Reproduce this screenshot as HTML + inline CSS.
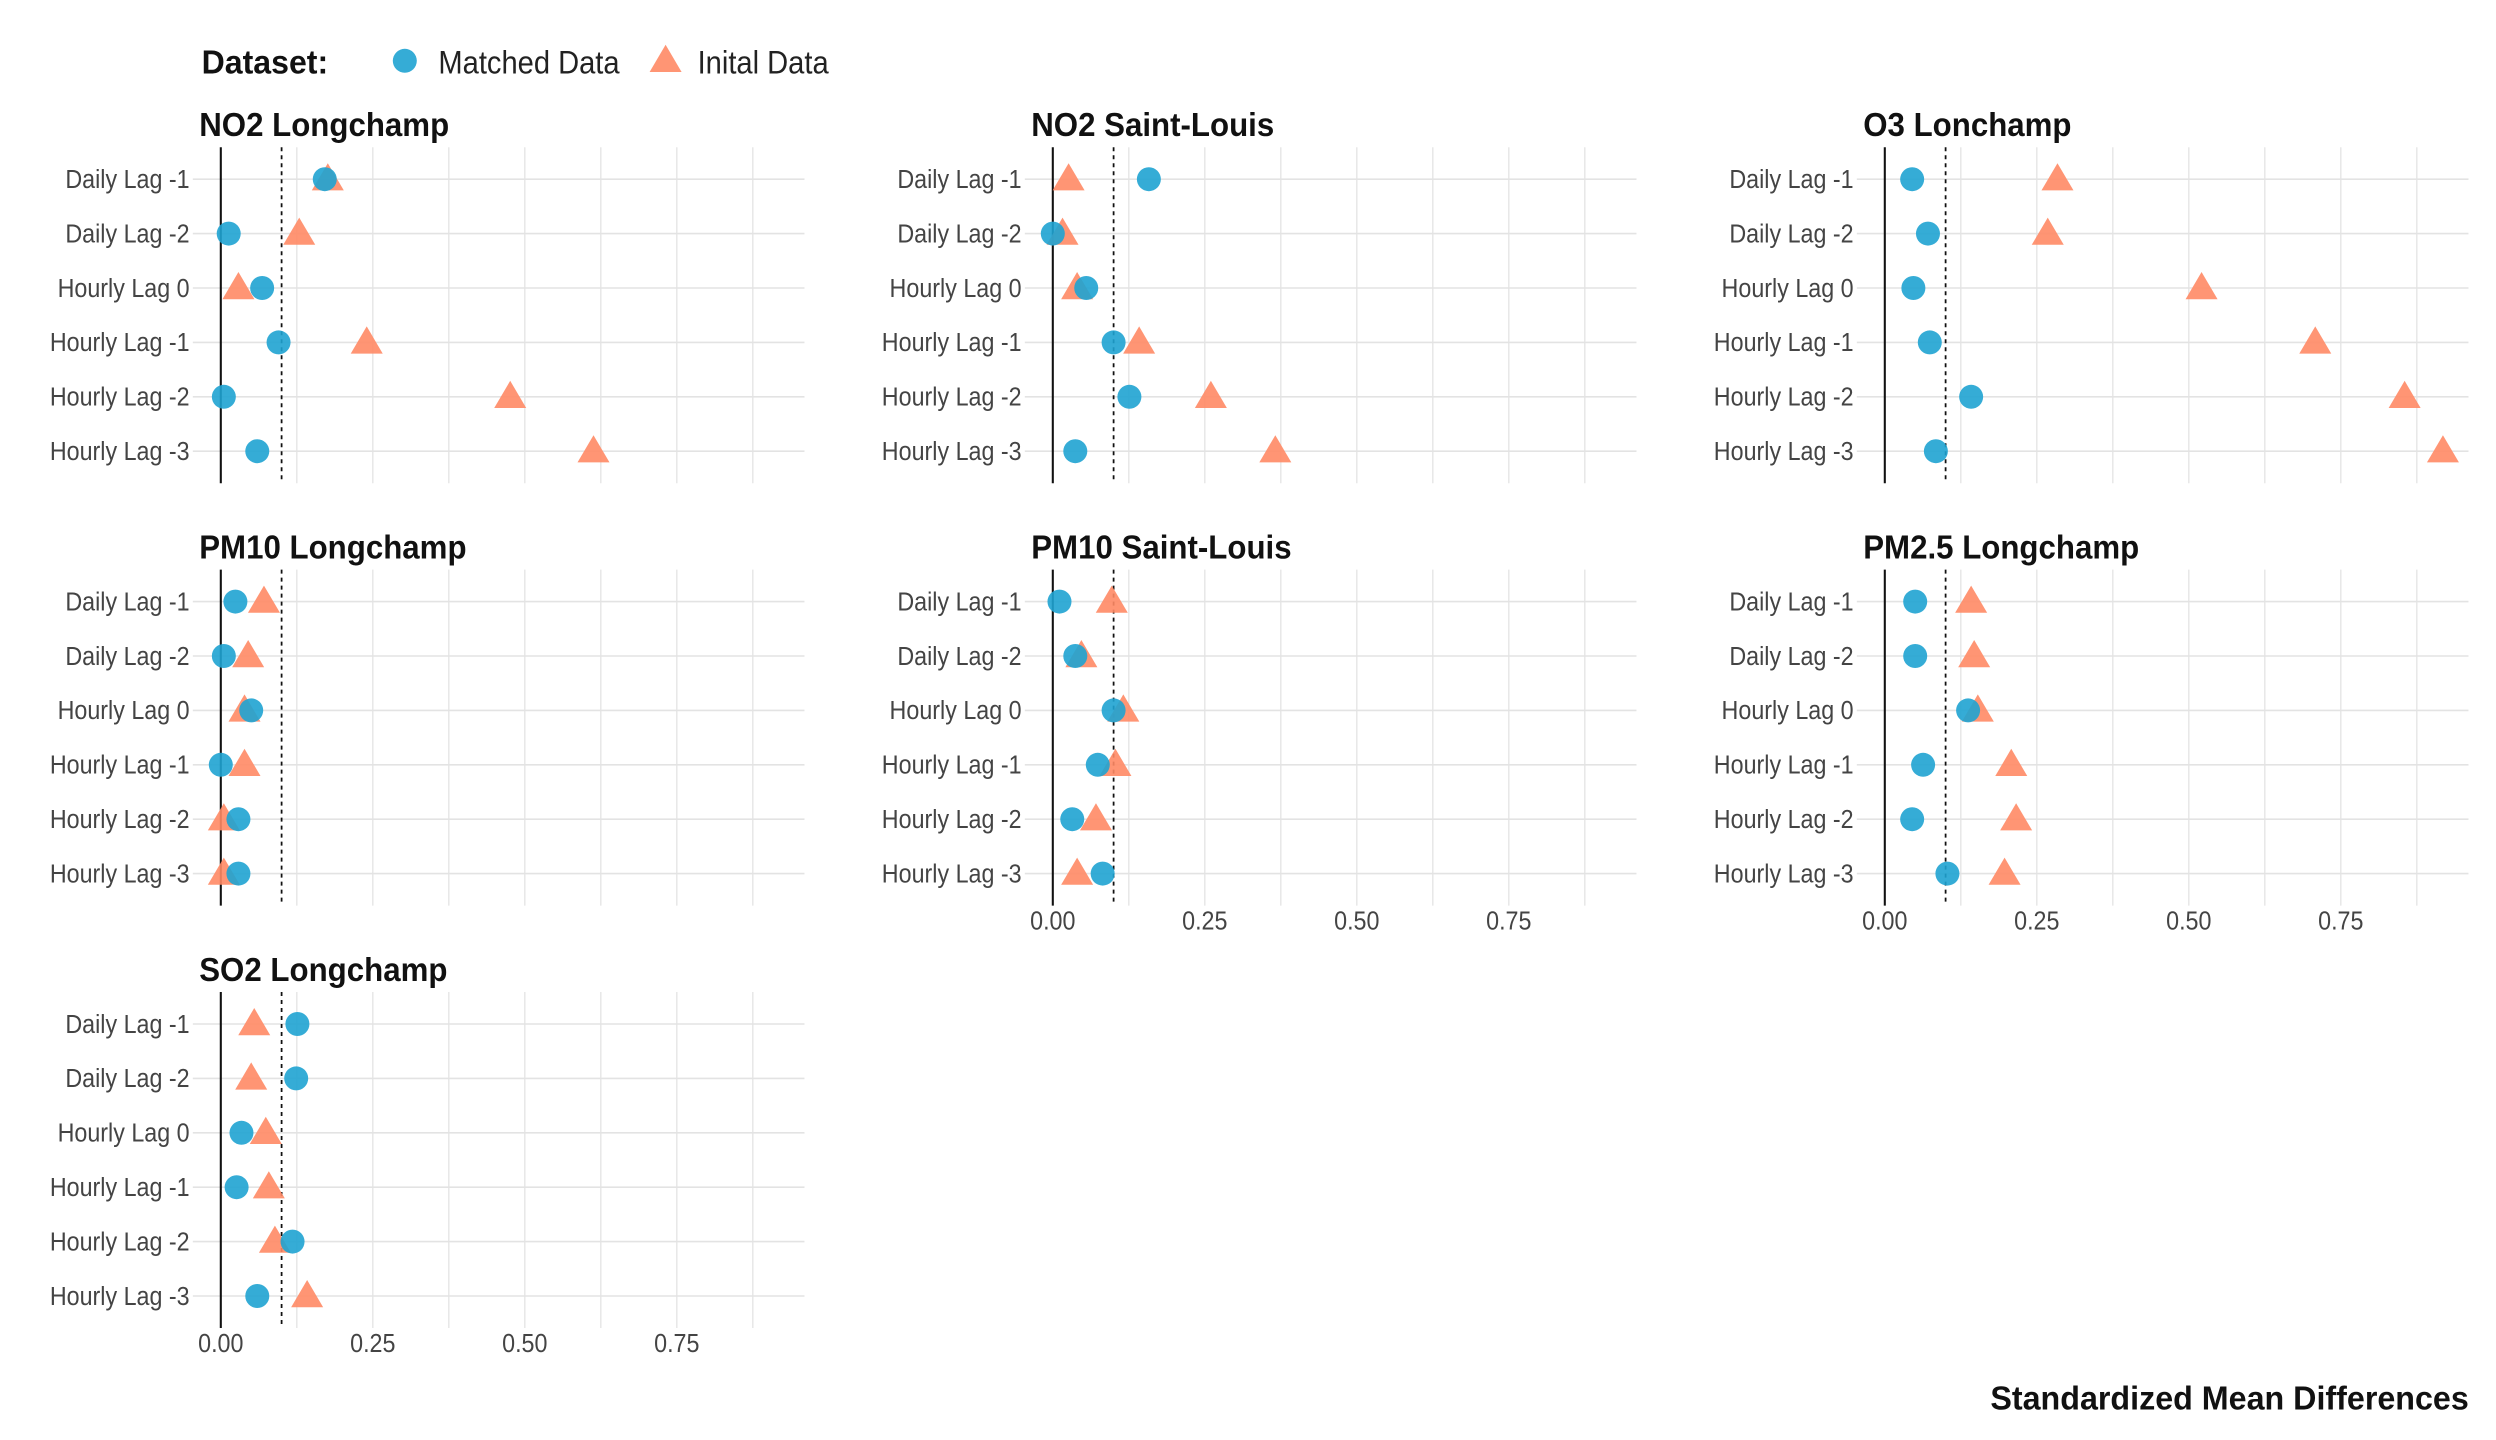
<!DOCTYPE html>
<html><head><meta charset="utf-8"><style>
html,body{margin:0;padding:0;background:#fff;}
svg{display:block;font-family:"Liberation Sans Narrow","Liberation Sans",sans-serif;}
</style></head><body>
<svg id="chart" width="2496" height="1440" viewBox="0 0 1560 900" xmlns="http://www.w3.org/2000/svg">
<g>
<text x="126" y="46" font-size="21" font-weight="bold" fill="#111" transform="matrix(0.955,0,0,1,5.67,0)">Dataset:</text>
<circle cx="253" cy="38" r="7.5" fill="#1fa3d2" fill-opacity="0.9"/>
<text x="274" y="46" font-size="20" fill="#222" transform="matrix(0.91,0,0,1,24.66,0)">Matched Data</text>
<path d="M416,28 L426,45 L406,45 Z" fill="#ff8a65" fill-opacity="0.9"/>
<text x="436" y="46" font-size="20" fill="#222" transform="matrix(0.91,0,0,1,39.24,0)">Inital Data</text>
</g>
<text x="1543" y="881" text-anchor="end" font-size="21" font-weight="bold" fill="#111" transform="matrix(0.96,0,0,1,61.72,0)">Standardized Mean Differences</text>
<g id="panels"></g>
</svg>
<script>
const categories = ["Daily Lag -1","Daily Lag -2","Hourly Lag 0","Hourly Lag -1","Hourly Lag -2","Hourly Lag -3"];
const panelTitles = ["NO2 Longchamp","NO2 Saint-Louis","O3 Lonchamp","PM10 Longchamp","PM10 Saint-Louis","PM2.5 Longchamp","SO2 Longchamp"];
const matchedNO2L = [0.171,0.013,0.068,0.095,0.005,0.060];
const initialNO2L = [0.176,0.129,0.029,0.240,0.476,0.613];
const matchedNO2SL = [0.158,0.000,0.055,0.100,0.126,0.037];
const initialNO2SL = [0.026,0.016,0.040,0.142,0.260,0.366];
const matchedO3 = [0.045,0.071,0.047,0.074,0.142,0.084];
const initialO3 = [0.284,0.268,0.521,0.708,0.855,0.918];
const matchedPM10L = [0.024,0.005,0.050,0.000,0.029,0.029];
const initialPM10L = [0.071,0.045,0.039,0.039,0.005,0.005];
const matchedPM10SL = [0.011,0.037,0.100,0.074,0.032,0.082];
const initialPM10SL = [0.097,0.047,0.116,0.103,0.071,0.040];
const matchedPM25 = [0.050,0.050,0.137,0.063,0.045,0.103];
const initialPM25 = [0.142,0.147,0.153,0.208,0.216,0.197];
const matchedSO2 = [0.126,0.124,0.034,0.026,0.118,0.060];
const initialSO2 = [0.055,0.050,0.074,0.079,0.089,0.142];
const tickValues = [0,0.25,0.5,0.75];
const tickLabels = ["0.00","0.25","0.50","0.75"];
const threshold = 0.1;

const matchedSets=[matchedNO2L,matchedNO2SL,matchedO3,matchedPM10L,matchedPM10SL,matchedPM25,matchedSO2];
const initialSets=[initialNO2L,initialNO2SL,initialO3,initialPM10L,initialPM10SL,initialPM25,initialSO2];
const NS="http://www.w3.org/2000/svg";
const root=document.getElementById('panels');
function mk(tag,attrs,parent){const e=document.createElementNS(NS,tag);for(const k in attrs)e.setAttribute(k,attrs[k]);parent.appendChild(e);return e;}
function squeeze(e,x,s){e.setAttribute('transform',`matrix(${s},0,0,1,${x*(1-s)},0)`);}
const colX0=[138,658,1178], rowY0=[112,376,640];
const scale=380, rowStep=34;
panelTitles.forEach((title,p)=>{
  const col=p%3,row=Math.floor(p/3);
  const x0=colX0[col], yTop=rowY0[row];
  const xs=v=>x0+v*scale;
  const ys=i=>yTop+i*rowStep;
  const left=xs(-0.046), right=xs(0.96), top=ys(0)-20, bottom=ys(5)+20;
  const g=mk('g',{},root);
  
  
  const t=mk('text',{x:left+4,y:top-7,'font-size':21,'font-weight':'bold',fill:'#111'},g);
  t.textContent=title;
  squeeze(t,left+4,0.93);
  
  
  for(let v=0.125;v<0.95;v+=0.125){
    const l=mk('line',{x1:xs(v),x2:xs(v),y1:top,y2:bottom,stroke:'#e3e3e3','stroke-width':0.8},g);
    
    
  }
  categories.forEach((c,i)=>{
    const l=mk('line',{x1:left,x2:right,y1:ys(i),y2:ys(i),stroke:'#e3e3e3','stroke-width':1},g);
    
    
    const tx=mk('text',{x:left-2,y:ys(i)+5.5,'text-anchor':'end','font-size':16,fill:'#444'},g);
    tx.textContent=c;
    squeeze(tx,left-2,0.91);
    
    
  });
  const ax=mk('line',{x1:xs(0),x2:xs(0),y1:top,y2:bottom,stroke:'#111','stroke-width':1.3},g);
  
  
  const th=mk('line',{x1:xs(threshold),x2:xs(threshold),y1:top,y2:bottom,stroke:'#111','stroke-width':1.1,'stroke-dasharray':'2.5,2.5'},g);
  
  
  const isBottom=(col===0&&row===2)||(col>0&&row===1);
  if(isBottom){
    tickValues.forEach((v,k)=>{
      const tx=mk('text',{x:xs(v),y:bottom+15,'text-anchor':'middle','font-size':16,fill:'#444'},g);
      tx.textContent=tickLabels[k];
      squeeze(tx,xs(v),0.91);
      
      
    });
  }
  initialSets[p].forEach((v,i)=>{
    const cx=xs(v),cy=ys(i);
    const tr=mk('path',{d:`M${cx},${cy-10} L${cx+10},${cy+7} L${cx-10},${cy+7} Z`,fill:'#ff8a65','fill-opacity':0.9},g);
    
    
  });
  matchedSets[p].forEach((v,i)=>{
    const ci=mk('circle',{cx:xs(v),cy:ys(i),r:7.5,fill:'#1fa3d2','fill-opacity':0.9},g);
    
    
  });
});
</script>
</body></html>
